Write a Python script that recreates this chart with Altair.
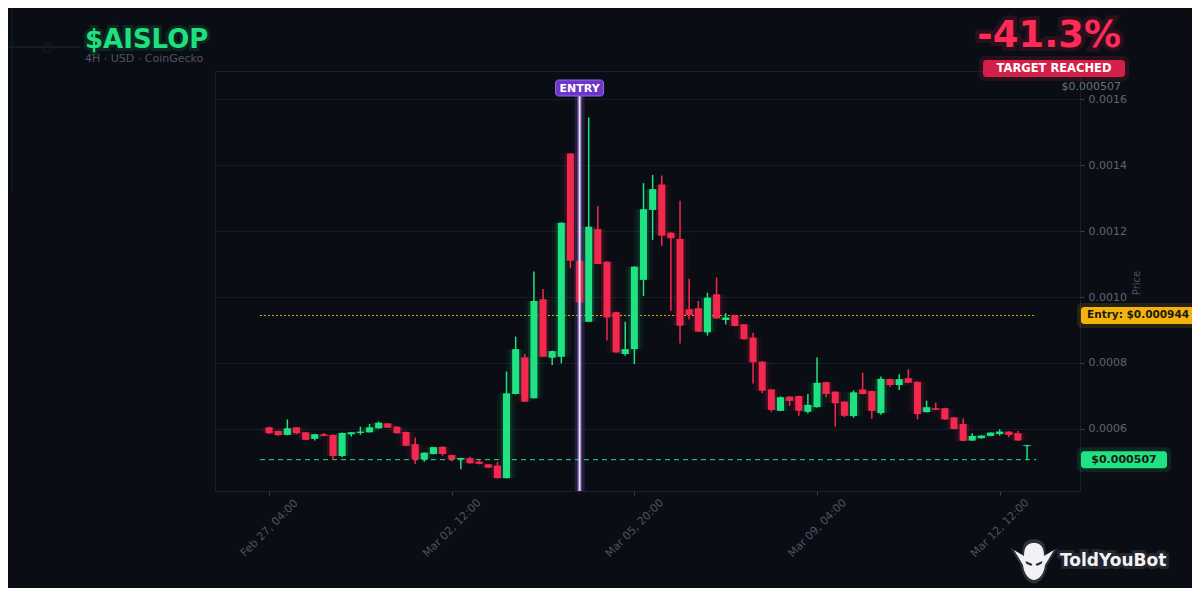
import altair as alt
import numpy as np
import pandas as pd

# ---------------- data ----------------
ticker = "$AISLOP"
subtitle = "4H  ·  USD  ·  CoinGecko"
change_text = "-41.3%"
status_text = "TARGET REACHED"
entry_label = "Entry: $0.000944"
current_label = "$0.000507"
entry_price = 0.000944
current_price = 0.000507
start_time = "2025-02-27T04:00:00"
entry_index = 34

opens = [0.000605, 0.000594, 0.000582, 0.000605, 0.000590, 0.000570, 0.000584, 0.000582, 0.000518, 0.000584,
         0.000588, 0.000590, 0.000602, 0.000617, 0.000607, 0.000591, 0.000554, 0.000508, 0.000524, 0.000546,
         0.000521, 0.000508, 0.000511, 0.000501, 0.000493, 0.000489, 0.000451, 0.000706, 0.000817, 0.000693,
         0.000993, 0.000816, 0.000819, 0.001435, 0.001110, 0.000925, 0.001206, 0.001107, 0.000954, 0.000827,
         0.000842, 0.001052, 0.001264, 0.001341, 0.001195, 0.001176, 0.000963, 0.000966, 0.000893, 0.001008,
         0.000930, 0.000945, 0.000917, 0.000877, 0.000804, 0.000720, 0.000655, 0.000698, 0.000700, 0.000652,
         0.000666, 0.000742, 0.000713, 0.000683, 0.000639, 0.000720, 0.000715, 0.000648, 0.000751, 0.000733,
         0.000754, 0.000743, 0.000651, 0.000663, 0.000663, 0.000635, 0.000615, 0.000565, 0.000572, 0.000579,
         0.000585, 0.000592, 0.000587, 0.000548]
closes = [0.000587, 0.000581, 0.000602, 0.000587, 0.000567, 0.000584, 0.000579, 0.000518, 0.000588, 0.000590,
          0.000592, 0.000605, 0.000619, 0.000604, 0.000587, 0.000549, 0.000508, 0.000528, 0.000545, 0.000524,
          0.000508, 0.000512, 0.000496, 0.000494, 0.000483, 0.000451, 0.000708, 0.000842, 0.000683, 0.000988,
          0.000819, 0.000836, 0.001225, 0.001110, 0.000984, 0.001213, 0.001100, 0.000938, 0.000832, 0.000842,
          0.001092, 0.001266, 0.001327, 0.001186, 0.001178, 0.000913, 0.000945, 0.000895, 0.000998, 0.000935,
          0.000938, 0.000912, 0.000872, 0.000802, 0.000716, 0.000658, 0.000696, 0.000685, 0.000655, 0.000673,
          0.000740, 0.000706, 0.000678, 0.000640, 0.000711, 0.000706, 0.000655, 0.000752, 0.000733, 0.000751,
          0.000740, 0.000645, 0.000666, 0.000658, 0.000629, 0.000600, 0.000564, 0.000579, 0.000580, 0.000589,
          0.000592, 0.000582, 0.000565, 0.000551]
highs = [0.000607, 0.000595, 0.000629, 0.000606, 0.000591, 0.000585, 0.000588, 0.000583, 0.000589, 0.000591,
         0.000607, 0.000615, 0.000622, 0.000618, 0.000608, 0.000592, 0.000574, 0.000529, 0.000546, 0.000547,
         0.000522, 0.000513, 0.000516, 0.000506, 0.000494, 0.000500, 0.000774, 0.000880, 0.000827, 0.001077,
         0.001024, 0.000837, 0.001226, 0.001436, 0.001111, 0.001544, 0.001276, 0.001108, 0.000955, 0.000925,
         0.001093, 0.001345, 0.001370, 0.001368, 0.001196, 0.001292, 0.001055, 0.000988, 0.001013, 0.001060,
         0.000951, 0.000946, 0.000918, 0.000892, 0.000805, 0.000721, 0.000699, 0.000699, 0.000701, 0.000706,
         0.000817, 0.000743, 0.000714, 0.000684, 0.000717, 0.000771, 0.000716, 0.000759, 0.000752, 0.000766,
         0.000781, 0.000744, 0.000686, 0.000680, 0.000664, 0.000636, 0.000632, 0.000587, 0.000581, 0.000590,
         0.000599, 0.000593, 0.000594, 0.000552]
lows = [0.000585, 0.000580, 0.000581, 0.000584, 0.000566, 0.000565, 0.000578, 0.000506, 0.000514, 0.000577,
        0.000582, 0.000589, 0.000601, 0.000603, 0.000586, 0.000548, 0.000494, 0.000501, 0.000523, 0.000519,
        0.000502, 0.000478, 0.000495, 0.000493, 0.000482, 0.000450, 0.000450, 0.000705, 0.000682, 0.000692,
        0.000818, 0.000794, 0.000799, 0.001087, 0.000983, 0.000924, 0.001099, 0.000868, 0.000831, 0.000822,
        0.000797, 0.001003, 0.001173, 0.001155, 0.000958, 0.000859, 0.000932, 0.000894, 0.000883, 0.000934,
        0.000917, 0.000911, 0.000871, 0.000738, 0.000708, 0.000652, 0.000654, 0.000670, 0.000640, 0.000647,
        0.000665, 0.000696, 0.000607, 0.000636, 0.000634, 0.000705, 0.000630, 0.000643, 0.000728, 0.000718,
        0.000739, 0.000629, 0.000650, 0.000657, 0.000628, 0.000599, 0.000563, 0.000564, 0.000571, 0.000578,
        0.000580, 0.000575, 0.000564, 0.000506]

y_ticks = [0.0006, 0.0008, 0.0010, 0.0012, 0.0014, 0.0016]

# ---------------- styling ----------------
GREEN = "#1fe383"
RED = "#f3284f"
BG = "#0a0d14"
FONT = "DejaVu Sans"

times = pd.date_range(start_time, periods=len(opens), freq="4h")
df = pd.DataFrame({
    "t": times.strftime("%Y-%m-%dT%H:%M:%S"),
    "open": opens, "close": closes, "high": highs, "low": lows,
})
df["dir"] = np.where(df["close"] >= df["open"], "up", "down")

line_start = (times[0] - pd.Timedelta(hours=4)).strftime("%Y-%m-%dT%H:%M:%S")
line_end = (times[-1] + pd.Timedelta(hours=4)).strftime("%Y-%m-%dT%H:%M:%S")
entry_time = times[entry_index].strftime("%Y-%m-%dT%H:%M:%S")


def dt(ts):
    ts = pd.Timestamp(ts)
    return alt.DateTime(year=ts.year, month=ts.month, date=ts.day, hours=ts.hour, minutes=ts.minute)


x_scale = alt.Scale(domain=[dt("2025-02-26T06:30"), dt("2025-03-13T21:00")])
y_scale = alt.Scale(domain=[0.000412, 0.001685], nice=False, zero=False)
color_scale = alt.Scale(domain=["up", "down"], range=[GREEN, RED])

x_axis = alt.Axis(
    values=[dt(t) for t in times[::20]], format="%b %d, %H:%M", labelAngle=-45,
    labelAlign="center", labelBaseline="middle", labelPadding=33, labelColor="#4b5365",
    labelFontSize=11, labelFont=FONT, tickSize=4, tickColor="#343b4a", grid=False,
    domain=False, title=None, labelOverlap=False, labelFlush=False,
)
y_axis = alt.Axis(
    orient="right", values=y_ticks, format=".4f", labelColor="#5d6576", labelFontSize=11,
    labelFont=FONT, tickColor="#3a4252", tickSize=4, labelPadding=4, domain=False,
    grid=True, gridColor="#161c27", title=None,
)


def X(field):
    return alt.X(field, scale=x_scale, axis=x_axis)


def Y(field):
    return alt.Y(field, scale=y_scale, axis=y_axis)


color_enc = alt.Color("dir:N", scale=color_scale, legend=None)
base = alt.Chart(df)

glow2 = base.mark_bar(size=19, opacity=0.05).encode(
    x=X("t:T"), y=Y("open:Q"), y2="close:Q", color=color_enc)
glow = base.mark_bar(size=12, opacity=0.12).encode(
    x=X("t:T"), y=Y("open:Q"), y2="close:Q", color=color_enc)
wicks = base.mark_rule(strokeWidth=1.5).encode(
    x=X("t:T"), y=Y("low:Q"), y2="high:Q", color=color_enc)
bodies = base.mark_bar(size=7).encode(
    x=X("t:T"), y=Y("open:Q"), y2="close:Q", color=color_enc)

hlines_df = pd.DataFrame({
    "t0": [line_start, line_start], "t1": [line_end, line_end],
    "p": [entry_price, current_price], "kind": ["entry", "current"],
})
entry_hline = alt.Chart(hlines_df[hlines_df.kind == "entry"]).mark_rule(
    color="#e0ac1c", strokeWidth=1, strokeDash=[2, 2]).encode(
    x=X("t0:T"), x2="t1:T", y=Y("p:Q"))
current_hline = alt.Chart(hlines_df[hlines_df.kind == "current"]).mark_rule(
    color=GREEN, strokeWidth=1, strokeDash=[5, 4]).encode(
    x=X("t0:T"), x2="t1:T", y=Y("p:Q"))

entry_df = pd.DataFrame({"t": [entry_time], "label": ["ENTRY"]})
entry_glow = alt.Chart(entry_df).mark_rule(color="#a56bff", strokeWidth=10, opacity=0.18).encode(
    x=X("t:T"), y=alt.value(25), y2=alt.value(420))
entry_glow2 = alt.Chart(entry_df).mark_rule(color="#b98cff", strokeWidth=5, opacity=0.3).encode(
    x=X("t:T"), y=alt.value(25), y2=alt.value(420))
entry_vline = alt.Chart(entry_df).mark_rule(color="#eadfff", strokeWidth=2).encode(
    x=X("t:T"), y=alt.value(25), y2=alt.value(420))
entry_badge = alt.Chart(entry_df).mark_rect(
    color="#6d35c9", stroke="#9a6bf0", strokeWidth=1, cornerRadius=3, width=48).encode(
    x=X("t:T"), y=alt.value(9), y2=alt.value(25))
entry_badge_text = alt.Chart(entry_df).mark_text(
    color="white", fontWeight="bold", fontSize=11, font=FONT, baseline="middle").encode(
    x=X("t:T"), y=alt.value(17.5), text="label:N")


def label_layer(text, **kw):
    d = pd.DataFrame({"s": [text]})
    return alt.Chart(d).mark_text(font=FONT, **kw).encode(text="s:N")


def rect_layer(x0, x1, y0, y1, color, **kw):
    d = pd.DataFrame({"s": ["r"]})
    return alt.Chart(d).mark_rect(color=color, **kw).encode(
        x=alt.value(x0), x2=alt.value(x1), y=alt.value(y0), y2=alt.value(y1))


def price_badge(price, x0, x1, color, text, text_x, font_size):
    d = pd.DataFrame({"p": [price], "s": [text]})
    h = alt.Chart(d).mark_rect(color=color, cornerRadius=5, height=25, opacity=0.12).encode(
        x=alt.value(x0 - 4), x2=alt.value(x1 + 4), y=Y("p:Q"))
    r = alt.Chart(d).mark_rect(color=color, cornerRadius=3, height=17).encode(
        x=alt.value(x0), x2=alt.value(x1), y=Y("p:Q"))
    t = alt.Chart(d).mark_text(font=FONT, fontWeight="bold", fontSize=font_size, color="#1a1a12",
                               baseline="middle", align="center").encode(
        x=alt.value(text_x), y=Y("p:Q"), text="s:N")
    return [h, r, t]


# decorations (faint circuit line top-left)
deco = [
    rect_layer(-206, -134, -24, -24, "#000000", stroke="#172031", strokeWidth=1),
    label_layer("○", x=-168, y=-24, fontSize=12, color="#1c2636", align="center", baseline="middle"),
    rect_layer(-203, -203, -63, 120, "#000000", stroke="#121826", strokeWidth=1),
]

title_glow = label_layer(ticker, x=-130, y=-23, fontSize=26, fontWeight="bold", color="#1fe07f",
                         stroke="#1fe07f", strokeWidth=6, opacity=0.12, align="left",
                         baseline="alphabetic")
title = label_layer(ticker, x=-130, y=-23, fontSize=26, fontWeight="bold", color="#1fe07f",
                    align="left", baseline="alphabetic")
sub = label_layer(subtitle, x=-130, y=-9, fontSize=11, color="#4c5566", align="left",
                  baseline="alphabetic")
change_glow = label_layer(change_text, x=906, y=-24, fontSize=37, fontWeight="bold", color="#ff2a55",
                          stroke="#ff2a55", strokeWidth=8, opacity=0.12, align="right",
                          baseline="alphabetic")
change = label_layer(change_text, x=906, y=-24, fontSize=37, fontWeight="bold", color="#ff2a55",
                     align="right", baseline="alphabetic")
status_glow = rect_layer(764, 914, -15, 10, "#d41f48", cornerRadius=6, opacity=0.15)
status_rect = rect_layer(768, 910, -11, 6, "#d41f48", cornerRadius=3)
status = label_layer(status_text, x=839, y=-2.5, fontSize=11.5, fontWeight="bold", color="white",
                     align="center", baseline="middle")
cur_small = label_layer(current_label, x=906, y=16, fontSize=11, color="#6b7281", align="right",
                        baseline="middle")
price_title = label_layer("Price", x=922, y=212, fontSize=10, color="#4b5365", angle=270,
                          align="center", baseline="middle")

entry_tag = price_badge(entry_price, 866, 981, "#f4b30c", entry_label, 923, 10.5)
current_tag = price_badge(current_price, 866, 952, GREEN, current_label, 909, 11)

HEAD = ("M-1,-0.6 L-0.5,-0.3 C-0.5,-0.85 -0.25,-0.95 0,-0.95 C0.25,-0.95 0.5,-0.85 0.5,-0.3 "
        "L1,-0.6 L0.55,0.15 C0.5,0.65 0.2,0.9 0,0.9 C-0.2,0.9 -0.5,0.65 -0.55,0.15 Z")
logo_halo = alt.Chart(pd.DataFrame({"s": ["h"]})).mark_point(
    shape=HEAD, filled=True, color="#ffffff", opacity=0.15, size=2300, strokeWidth=0).encode(
    x=alt.value(819), y=alt.value(491))
logo_head = alt.Chart(pd.DataFrame({"s": ["h"]})).mark_point(
    shape=HEAD, filled=True, color="#f2f2f6", opacity=1, size=1600, strokeWidth=0).encode(
    x=alt.value(819), y=alt.value(491))
logo_eyes = alt.Chart(pd.DataFrame({"s": ["e"]})).mark_point(
    shape="M-0.42,-0.05 L-0.08,0.1 L-0.14,0.2 L-0.4,0.08 Z M0.42,-0.05 L0.08,0.1 L0.14,0.2 L0.4,0.08 Z",
    filled=True, color="#2a2d3a", opacity=1, size=1600, strokeWidth=0).encode(
    x=alt.value(819), y=alt.value(491))
logo_text_glow = label_layer("ToldYouBot", x=845, y=490, fontSize=17, fontWeight="bold",
                             color="#ffffff", stroke="#ffffff", strokeWidth=6, opacity=0.1,
                             align="left", baseline="middle")
logo_text = label_layer("ToldYouBot", x=845, y=490, fontSize=17, fontWeight="bold", color="#f2f2f6",
                        align="left", baseline="middle")

chart = alt.layer(
    glow2, glow, entry_hline, current_hline, entry_glow, entry_glow2, wicks, bodies, entry_vline,
    entry_badge, entry_badge_text,
    *deco,
    title_glow, title, sub, change_glow, change, status_glow, status_rect, status, cur_small,
    price_title,
    *entry_tag, *current_tag, logo_halo, logo_head, logo_eyes, logo_text_glow, logo_text,
).properties(
    width=865, height=420,
    autosize=alt.AutoSizeParams(type="none"),
    padding={"left": 207, "top": 63, "right": 112, "bottom": 97},
    background=BG,
).configure(font=FONT).configure_view(
    stroke="#1a2030", strokeWidth=1,
)

chart.save("out.html", embed_options={"renderer": "svg", "actions": False})
